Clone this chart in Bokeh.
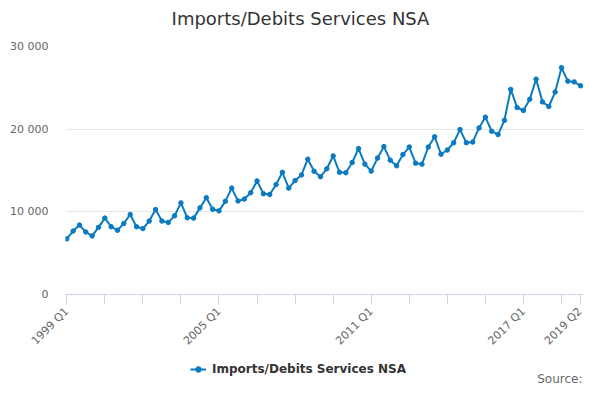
import math
from bokeh.plotting import figure
from bokeh.layouts import column
from bokeh.models import (ColumnDataSource, FixedTicker, Range1d, Legend,
                          LegendItem, Label)
from bokeh.embed import file_html
from bokeh.resources import INLINE

# ---- data ----
series_name = "Imports/Debits Services NSA"
chart_title = "Imports/Debits Services NSA"
quarters = [f"{y} Q{q}" for y in range(1999, 2020) for q in range(1, 5)][:82]
values = [
    6730, 7680, 8400, 7560, 7090, 8120, 9240, 8200,      # 1999-2000
    7770, 8600, 9680, 8200, 7970, 8880, 10270, 8880,     # 2001-2002
    8720, 9520, 11080, 9280, 9240, 10480, 11710, 10310,  # 2003-2004
    10120, 11270, 12870, 11310, 11550, 12310, 13740, 12190,  # 2005-2006
    12100, 13300, 14780, 12870, 13780, 14460, 16370, 14900,  # 2007-2008
    14250, 15210, 16760, 14780, 14730, 15970, 17650, 15770,  # 2009-2010
    14930, 16500, 17890, 16250, 15570, 16930, 17840, 15890,  # 2011-2012
    15770, 17840, 19080, 16970, 17480, 18360, 19950, 18360,  # 2013-2014
    18440, 20150, 21450, 19750, 19350, 21070, 24810, 22620,  # 2015-2016
    22260, 23620, 26050, 23300, 22740, 24490, 27440, 25810,  # 2017-2018
    25720, 25250,                                            # 2019
]
labeled_quarters = ["1999 Q1", "2005 Q1", "2011 Q1", "2017 Q1", "2019 Q2"]
minor_tick_step = 6
y_ticks = [0, 10000, 20000, 30000]
y_tick_labels = ["0", "10 000", "20 000", "30 000"]
source_text = "Source:"

FONT = "DejaVu Sans"
COLOR = "#0b7bc0"
W = 584
LEFT, RIGHT = 65, 1            # plot-frame borders (shared by the column)
HEAD_H, MAIN_H, FOOT_H = 30, 325, 29


def blank_panel(h):
    # frames of a column are aligned, so map the frame to page pixels
    f = figure(width=W, height=h, output_backend="svg", toolbar_location=None,
               x_range=Range1d(LEFT, W - RIGHT), y_range=Range1d(0, h),
               x_axis_type=None, y_axis_type=None, min_border=0,
               min_border_left=LEFT, min_border_right=RIGHT,
               min_border_top=0, min_border_bottom=0)
    f.outline_line_color = None
    f.grid.visible = False
    f.background_fill_color = "white"
    f.border_fill_color = "white"
    return f


# ---- header with title ----
head = blank_panel(HEAD_H)
head.add_layout(Label(x=300, y=12, text=chart_title, text_align="center",
                      text_baseline="middle", text_font=FONT,
                      text_font_size="18px", text_color="#333333"))

# ---- main chart ----
x = list(range(len(values)))
src = ColumnDataSource(dict(x=x, y=values, q=quarters))

p = figure(width=W, height=MAIN_H, output_backend="svg", toolbar_location=None,
           x_range=Range1d(-0.2, 81.47), y_range=Range1d(0, 30000),
           min_border_left=LEFT, min_border_right=RIGHT, min_border_top=16,
           min_border_bottom=58)
p.outline_line_color = None
p.background_fill_color = "white"
p.border_fill_color = "white"

major = [quarters.index(q) for q in labeled_quarters]
minor = [i for i in range(0, len(values), minor_tick_step) if i not in major]
p.xaxis.ticker = FixedTicker(ticks=major, minor_ticks=minor)
p.xaxis.major_label_overrides = {i: quarters[i] for i in major}
p.xaxis.major_label_orientation = math.pi / 4
p.xaxis.axis_line_color = "#ccd6eb"
p.xaxis.major_tick_line_color = "#ccd6eb"
p.xaxis.minor_tick_line_color = "#ccd6eb"
p.xaxis.major_tick_out = 10
p.xaxis.major_tick_in = 0
p.xaxis.minor_tick_out = 10
p.xaxis.minor_tick_in = 0
p.xaxis.major_label_standoff = 5
p.xaxis.major_label_text_font = FONT
p.xaxis.major_label_text_font_size = "11px"
p.xaxis.major_label_text_color = "#666666"
p.xgrid.visible = False

p.yaxis.ticker = FixedTicker(ticks=y_ticks)
p.yaxis.major_label_overrides = dict(zip(y_ticks, y_tick_labels))
p.yaxis.axis_line_color = None
p.yaxis.major_tick_line_color = None
p.yaxis.minor_tick_line_color = None
p.yaxis.major_tick_out = 0
p.yaxis.major_tick_in = 0
p.yaxis.major_label_standoff = 17
p.yaxis.major_label_text_font = FONT
p.yaxis.major_label_text_font_size = "11px"
p.yaxis.major_label_text_color = "#666666"
p.ygrid.grid_line_color = "#e6e6e6"
p.ygrid.grid_line_width = 1

p.line("x", "y", source=src, line_color=COLOR, line_width=2)
p.scatter("x", "y", source=src, size=4.5, fill_color=COLOR, line_color=COLOR)

# ---- footer with legend and source ----
foot = blank_panel(FOOT_H)
# key renderers: one sample lying outside the footer's visible range,
# needed only so the legend can draw its line+marker key
key_src = ColumnDataSource(dict(x=[-1000], y=[-1000]))
key_line = foot.line("x", "y", source=key_src, line_color=COLOR, line_width=2)
key_pts = foot.scatter("x", "y", source=key_src, size=4.5, fill_color=COLOR,
                       line_color=COLOR)
legend = Legend(items=[LegendItem(label=series_name,
                                  renderers=[key_line, key_pts])],
                location=(190 - LEFT, 8), orientation="horizontal",
                glyph_width=16, glyph_height=14, label_height=14,
                label_standoff=6, padding=0, margin=0, spacing=0,
                border_line_color=None, background_fill_alpha=0,
                label_text_font=FONT, label_text_font_style="bold",
                label_text_font_size="12px", label_text_color="#333333")
foot.add_layout(legend)
foot.add_layout(Label(x=582, y=6, text=source_text, text_align="right",
                      text_baseline="middle", text_font=FONT,
                      text_font_size="12px", text_color="#666666"))

layout = column(head, p, foot, spacing=0)
open("out.html", "w").write(file_html(layout, INLINE))
